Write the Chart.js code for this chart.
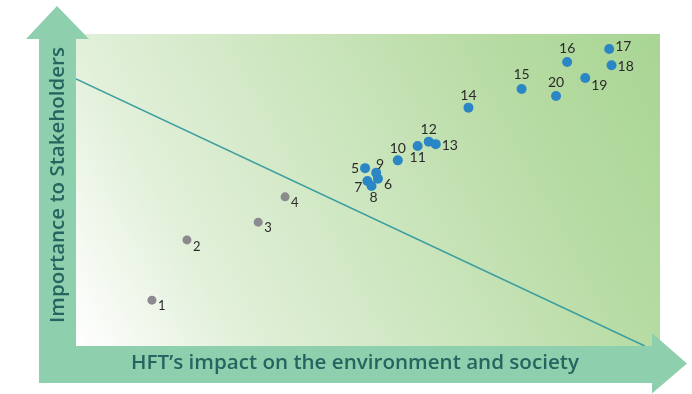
<!DOCTYPE html>
<html><head><meta charset="utf-8">
<script src="https://cdn.jsdelivr.net/npm/chart.js@4/dist/chart.umd.min.js"></script>
<style>html,body{margin:0;padding:0;background:#fff}canvas{display:block}</style>
</head><body>
<canvas id="c" width="692" height="394"></canvas>
<script>
// Data (0-100 scales)
const ids = ['1','2','3','4','5','6','7','8','9','10','11','12','13','14','15','16','17','18','19','20'];
const impactX = [13.0,19.0,31.2,35.8,49.5,51.7,49.9,50.6,51.4,55.1,58.5,60.4,61.6,67.2,76.3,84.1,91.3,91.7,87.2,82.2];
const importanceY = [14.7,34.0,39.7,47.8,57.0,53.6,52.9,51.3,55.5,59.5,64.1,65.5,64.7,76.4,82.4,91.0,95.2,90.0,85.9,80.1];
const thresholdX = [0, 97.4];
const thresholdY = [85.6, 0];
const xTitle = 'HFT\u2019s impact on the environment and society';
const yTitle = 'Importance to Stakeholders';

// label placement (dx, dy, align) per point
const labelPos = [
  [6,6,'left'],[6,7,'left'],[6,6,'left'],[6,6,'left'],
  [-6,0,'right'],[6,6,'left'],[-5,7,'right'],[2,12,'center'],[4,-8,'center'],
  [0,-12,'center'],[0,11,'center'],[0,-12,'center'],[6,1,'left'],
  [0,-12,'center'],[0,-14,'center'],[0,-14,'center'],[6,-2,'left'],[6,1,'left'],[6,7,'left'],[0,-14,'center']
];

const pts = ids.map((id,i)=>({x:impactX[i], y:importanceY[i]}));
const colors = ids.map((id,i)=> i<4 ? '#8a8a8f' : '#2a86c5');
const radii = ids.map((id,i)=> i<4 ? 4.5 : 5);

const bgPlugin = {
  id:'bg',
  beforeDraw(chart){
    const ctx = chart.ctx, a = chart.chartArea;
    ctx.save();
    const g = ctx.createLinearGradient(a.left, a.bottom, a.right, a.top);
    g.addColorStop(0,'#ffffff');
    g.addColorStop(0.22,'#e2f0da');
    g.addColorStop(0.78,'#b6dba2');
    g.addColorStop(1,'#a8d594');
    ctx.fillStyle = g;
    ctx.fillRect(a.left, a.top, a.right-a.left, a.bottom-a.top);
    // arrows
    ctx.fillStyle = '#8ecfad';
    ctx.beginPath();
    ctx.moveTo(39, a.bottom+37);
    ctx.lineTo(39, 39);
    ctx.lineTo(26, 39);
    ctx.lineTo(57, 6);
    ctx.lineTo(89, 39);
    ctx.lineTo(a.left, 39);
    ctx.lineTo(a.left, a.bottom);
    ctx.lineTo(652, a.bottom);
    ctx.lineTo(652, 333);
    ctx.lineTo(687, 363.5);
    ctx.lineTo(652, 393.5);
    ctx.lineTo(652, a.bottom+37);
    ctx.closePath();
    ctx.fill();
    // titles
    ctx.fillStyle = '#24655f';
    ctx.textBaseline = 'middle';
    ctx.textAlign = 'center';
    const fam = '"Open Sans"';
    ctx.font = '600 20px '+fam;
    let w = ctx.measureText(xTitle).width;
    const fs = 20*448/w;
    ctx.font = '600 '+fs.toFixed(2)+'px '+fam;
    ctx.fillText(xTitle, 355, 363);
    ctx.save();
    ctx.translate(58, 185);
    ctx.rotate(-Math.PI/2);
    ctx.font = '600 20px '+fam;
    w = ctx.measureText(yTitle).width;
    const fs2 = 20*276/w;
    ctx.font = '600 '+fs2.toFixed(2)+'px '+fam;
    ctx.fillText(yTitle, 0, 0);
    ctx.restore();
    ctx.restore();
  },
  afterDatasetsDraw(chart){
    const ctx = chart.ctx;
    const meta = chart.getDatasetMeta(1);
    ctx.save();
    ctx.textBaseline = 'middle';
    meta.data.forEach((el,i)=>{
      const p = labelPos[i];
      ctx.fillStyle = '#2b2b2b';
      ctx.font = (i<4 ? '13px' : '14px') + ' Lato';
      ctx.textAlign = p[2];
      ctx.fillText(ids[i], el.x+p[0], el.y+p[1]);
    });
    ctx.restore();
  }
};

new Chart(document.getElementById('c'), {
  type:'scatter',
  data:{
    datasets:[
      {type:'line', data: thresholdX.map((x,i)=>({x, y:thresholdY[i]})), borderColor:'#3b9e9f', borderWidth:1.6, pointRadius:0, fill:false, order:2},
      {data: pts, backgroundColor: colors, borderColor: colors, pointRadius: radii, pointHoverRadius: radii, borderWidth:0, order:1}
    ]
  },
  options:{
    responsive:false,
    animation:false,
    layout:{padding:{left:76, top:34, right:32, bottom:48}},
    plugins:{legend:{display:false}, tooltip:{enabled:false}},
    scales:{
      x:{type:'linear', min:0, max:100, display:false},
      y:{type:'linear', min:0, max:100, display:false}
    }
  },
  plugins:[bgPlugin]
});
</script>
</body></html>
